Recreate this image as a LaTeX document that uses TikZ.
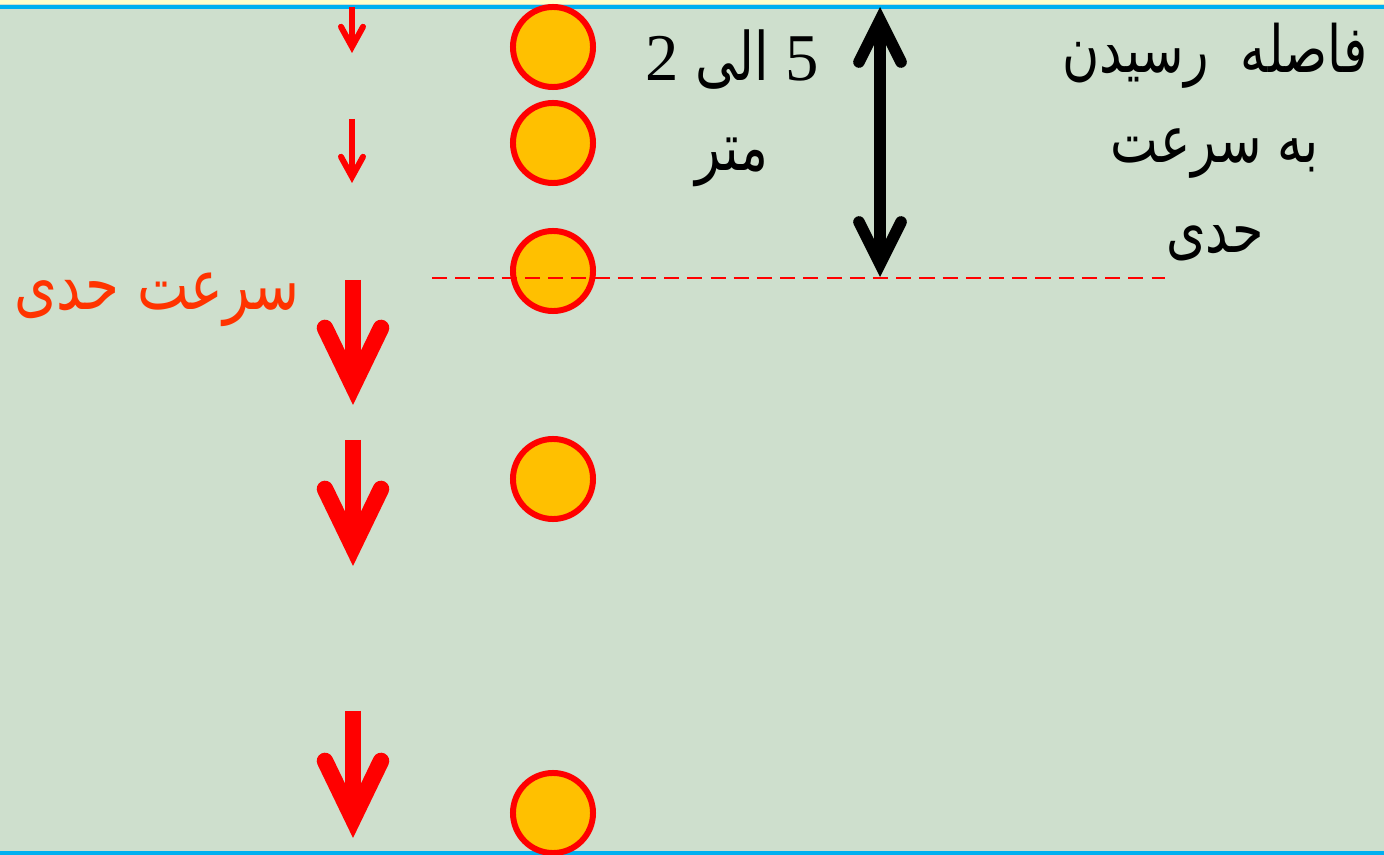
\documentclass[tikz,border=0pt]{standalone}
\usepackage{fontspec}
\setmainfont{Liberation Serif}
\newfontfamily\arabicfont[Script=Arabic,FakeStretch=0.78]{DejaVu Sans}
\newfontfamily\numfont{Liberation Serif}
\TeXXeTstate=1
\usepackage{xcolor}
\definecolor{bggreen}{HTML}{CEDFCD}
\definecolor{skyline}{HTML}{00B0F0}
\definecolor{ballfill}{HTML}{FFC000}
\definecolor{labelred}{HTML}{FF3300}
\definecolor{paleyellow}{HTML}{FFFFCC}
\usepackage{tikz}
\usetikzlibrary{arrows.meta}

\begin{document}
\begin{tikzpicture}[
  x=0.01cm,y=-0.01cm,
  ball/.style={circle,draw=red,fill=ballfill,line width=1.7pt,
               minimum size=0.8cm,inner sep=0pt},
  slowarrow/.style={red,line width=1.7pt,
    -{Straight Barb[length=0.2cm,width=0.22cm,line cap=round,line join=miter]}},
  fastarrow/.style={red,line width=4.7pt,
    -{Straight Barb[length=0.58cm,width=0.56cm,line cap=round,line join=miter]}},
  distarrow/.style={black,line width=3.3pt,
    {Straight Barb[length=0.42cm,width=0.42cm,line cap=round,line join=miter]}-%
    {Straight Barb[length=0.42cm,width=0.42cm,line cap=round,line join=miter]}},
  limitline/.style={red,line width=0.6pt,dash pattern=on 4.3pt off 2.3pt},
  bigtext/.style={font=\arabicfont\fontsize{19pt}{25.6pt}\selectfont,align=center},
]
  \useasboundingbox (0,0) rectangle (1384,855);
  % background and water lines
  \fill[bggreen] (0,0) rectangle (1384,855);
  \fill[paleyellow] (0,0) rectangle (1384,4);
  \draw[skyline,line width=1.4pt] (0,7) -- (1384,7);
  \draw[skyline,line width=1.2pt] (0,853) -- (1384,853);

  % falling ball positions
  \node[ball] (b1) at (553,47) {};
  \node[ball] (b2) at (553,143) {};
  \node[ball] (b3) at (553,271) {};
  \node[ball] (b4) at (553,479) {};
  \node[ball] (b5) at (553,813) {};

  % velocity arrows
  \coordinate (v1s) at (352,7);   \coordinate (v1e) at (352,53);
  \coordinate (v2s) at (352,119); \coordinate (v2e) at (352,183);
  \coordinate (v3s) at (353,280); \coordinate (v3e) at (353,405);
  \coordinate (v4s) at (353,440); \coordinate (v4e) at (353,566);
  \coordinate (v5s) at (353,711); \coordinate (v5e) at (353,838);
  \draw[slowarrow] (v1s) -- (v1e);
  \draw[slowarrow] (v2s) -- (v2e);
  \draw[fastarrow] (v3s) -- (v3e);
  \draw[fastarrow] (v4s) -- (v4e);
  \draw[fastarrow] (v5s) -- (v5e);

  % terminal speed level
  \coordinate (lvlL) at (432,278);
  \coordinate (lvlR) at (1165,278);
  \draw[limitline] (lvlL) -- (lvlR);
  \coordinate (dtop) at (880,7);
  \coordinate (dbot) at (880,277);
  \draw[distarrow] (dtop) -- (dbot);

  % labels
  \node[bigtext] (range) at (732,108)
    {\beginR{\numfont 5} الی {\numfont 2}\endR\\\beginR متر\endR};
  \node[bigtext,font=\arabicfont\fontsize{18.5pt}{25.6pt}\selectfont]
    (reach) at (1215,142)
    {\beginR فاصله\ \ رسیدن\endR\\\beginR به سرعت\endR\\\beginR حدی\endR};
  \node[bigtext,font=\arabicfont\fontsize{20pt}{25.6pt}\selectfont,
        text=labelred] (vterm) at (157,300) {\beginR سرعت حدی\endR};
\end{tikzpicture}
\end{document}
